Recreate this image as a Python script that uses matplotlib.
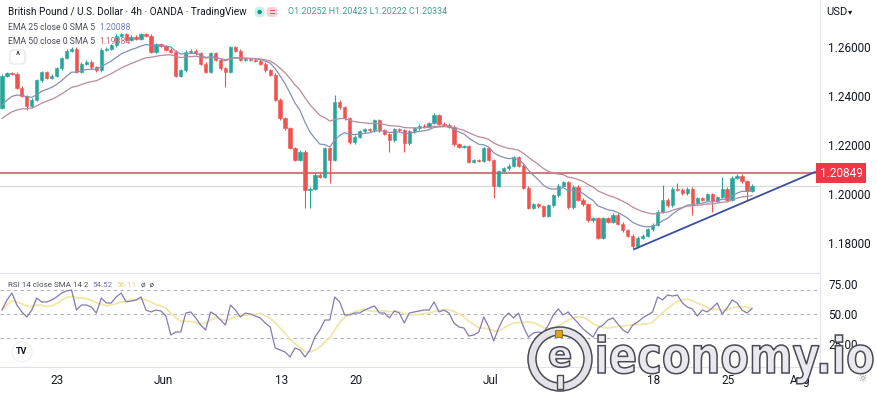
import numpy as np
import matplotlib.pyplot as plt
import matplotlib.transforms as mtransforms
from matplotlib.patches import Circle, FancyBboxPatch, PathPatch, Rectangle
from matplotlib.textpath import TextPath
from matplotlib.font_manager import FontProperties

plt.rcParams['font.family'] = ['Roboto', 'DejaVu Sans']

# GBP/USD (about 3 bars per trading day)
first_open = 1.2351
closes = [
    1.2482, 1.2494, 1.2490, 1.2433, 1.2400, 1.2359, 1.2384, 1.2465, 1.2498, 1.2474,
    1.2482, 1.2514, 1.2555, 1.2584, 1.2592, 1.2498, 1.2531, 1.2539, 1.2518, 1.2506,
    1.2588, 1.2592, 1.2608, 1.2645, 1.2653, 1.2629, 1.2641, 1.2633, 1.2653, 1.2645,
    1.2580, 1.2612, 1.2604, 1.2588, 1.2580, 1.2482, 1.2506, 1.2580, 1.2584, 1.2575,
    1.2531, 1.2498, 1.2575, 1.2547, 1.2514, 1.2498, 1.2600, 1.2584, 1.2547, 1.2551,
    1.2547, 1.2543, 1.2531, 1.2506, 1.2486, 1.2384, 1.2310, 1.2269, 1.2188, 1.2139,
    1.2172, 1.2017, 1.2021, 1.2078, 1.2070, 1.2188, 1.2139, 1.2376, 1.2355, 1.2310,
    1.2212, 1.2233, 1.2257, 1.2265, 1.2261, 1.2302, 1.2261, 1.2245, 1.2220, 1.2265,
    1.2261, 1.2208, 1.2257, 1.2269, 1.2278, 1.2274, 1.2290, 1.2322, 1.2286, 1.2282,
    1.2274, 1.2204, 1.2192, 1.2196, 1.2131, 1.2139, 1.2135, 1.2188, 1.2139, 1.2033,
    1.2094, 1.2106, 1.2115, 1.2151, 1.2115, 1.2025, 1.1943, 1.1959, 1.1951, 1.1911,
    1.1955, 1.1996, 1.2033, 1.2049, 1.1947, 1.2029, 1.1976, 1.1959, 1.1894, 1.1902,
    1.1821, 1.1902, 1.1886, 1.1915, 1.1878, 1.1853, 1.1829, 1.1788, 1.1821, 1.1829,
    1.1857, 1.1874, 1.1927, 1.1976, 1.1955, 1.2021, 1.2017, 1.2004, 1.2021, 1.1964,
    1.1984, 1.1976, 1.2000, 1.1972, 1.1988, 1.2021, 1.1976, 1.2066, 1.2074, 1.2053,
    1.2013, 1.2033,
]
# the wicks that stick out
wick_highs = {67: 1.2404, 87: 1.2331, 133: 1.2037, 136: 1.2045, 145: 1.2070}
wick_lows = {5: 1.2343, 45: 1.2437, 61: 1.1943, 62: 1.1943, 66: 1.2045, 78: 1.2172,
             81: 1.2172, 99: 1.1984, 127: 1.1772, 139: 1.1915, 143: 1.1927, 150: 1.1976}

rsi = [
    53.3, 61.7, 67.5, 57.5, 51.7, 47.5, 53.3, 63.3, 60.0, 60.0,
    61.7, 64.2, 67.5, 69.2, 70.0, 53.3, 57.5, 57.5, 55.8, 50.8,
    63.3, 59.2, 59.2, 64.2, 67.5, 60.0, 60.8, 61.7, 64.2, 53.3,
    51.7, 53.3, 52.5, 48.3, 32.5, 35.0, 35.0, 50.8, 51.7, 46.7,
    40.8, 36.7, 51.7, 49.2, 45.0, 40.8, 57.5, 53.3, 47.5, 50.8,
    50.0, 48.3, 46.7, 42.5, 39.2, 21.7, 20.0, 18.3, 14.2, 21.7,
    20.0, 14.2, 20.0, 30.8, 36.7, 45.0, 45.0, 64.2, 60.0, 49.2,
    49.2, 50.8, 50.8, 53.3, 55.0, 56.7, 50.8, 50.8, 46.7, 52.5,
    50.8, 42.5, 50.8, 51.7, 52.5, 53.3, 53.3, 60.0, 51.7, 53.3,
    50.8, 42.5, 39.2, 38.3, 31.7, 32.5, 35.0, 47.5, 39.2, 27.5,
    38.3, 46.7, 50.8, 46.7, 50.8, 39.2, 30.8, 34.2, 35.0, 34.2,
    40.8, 49.2, 54.2, 49.2, 51.7, 46.7, 42.5, 37.5, 34.2, 30.8,
    38.3, 40.8, 45.0, 46.7, 41.7, 36.7, 34.2, 40.8, 43.3, 46.7,
    49.2, 51.7, 64.2, 61.7, 65.8, 65.0, 65.8, 59.2, 55.8, 54.2,
    48.3, 53.3, 51.7, 55.0, 59.2, 50.0, 55.0, 61.7, 59.2, 53.3,
    50.8, 54.5,
]

ema25_start = 1.2343
ema50_start = 1.2294
resistance = 1.20849
trend_x = [127.4, 163.7]
trend_y = [1.1776, 1.2090]

price_ticks = [1.18, 1.20, 1.22, 1.24, 1.26]
rsi_ticks = [25, 50, 75]
rsi_bands = [30, 50, 70]
date_pos = [11.1, 32.4, 56.4, 71.3, 98.3, 131.3, 146.2, 160.7]
date_labels = ['23', 'Jun', '13', '20', 'Jul', '18', '25', 'Aug']

UP = '#26a69a'
DOWN = '#ef5350'
TXT = '#131722'
GREY = '#4a4e5a'
BORDER = '#e0e3eb'

W, H = 878, 393
fig = plt.figure(figsize=(W / 100, H / 100), dpi=100)
fig.patch.set_facecolor('white')
renderer = fig.canvas.get_renderer()


def fx(x):
    return x / W


def fy(y):
    return 1 - y / H


def right_of(t, gap):
    # pixel x just after a text
    return t.get_window_extent(renderer).x1 + gap


# ---- candles
n = len(closes)
xs = np.arange(n)
opens = [first_open] + closes[:-1]
ax = fig.add_axes([0, fy(273), fx(820), 273 / H])
ax.set_xlim(-0.4, 164.7)
ax.set_ylim(1.16779, 1.279176)

for i in range(n):
    o, c = opens[i], closes[i]
    col = UP if c >= o else DOWN
    hi = wick_highs.get(i, max(o, c) + 0.0006)
    lo = wick_lows.get(i, min(o, c) - 0.0006)
    ax.vlines(i, lo, hi, color=col, lw=0.8, zorder=3)
    ax.add_patch(Rectangle((i - 0.33, min(o, c)), 0.66, max(abs(c - o), 0.0002),
                           fc=col, ec=col, lw=0.4, zorder=4))

# EMA 25 / EMA 50 on 4h bars -> spans of 12.5 / 25 of these bars
ema25, ema50 = [], []
e25, e50 = ema25_start, ema50_start
for c in closes:
    e25 += (c - e25) * 2 / 13.5
    e50 += (c - e50) * 2 / 26.0
    ema25.append(e25)
    ema50.append(e50)
ax.plot(xs, ema25, color='#8790b4', lw=0.9, zorder=5)
ax.plot(xs, ema50, color='#b98b9d', lw=0.9, zorder=5)

ax.axhline(closes[-1], color='#d6d6d6', lw=0.8, zorder=1)
ax.axhline(resistance, color='#d27b80', lw=1.5, zorder=2)
ax.plot(trend_x, trend_y, color='#3c4f9e', lw=1.3, zorder=6, clip_on=False)

ax.yaxis.tick_right()
ax.set_yticks(price_ticks)
ax.set_yticklabels(['%.5f' % v for v in price_ticks])
ax.tick_params(axis='y', length=0, pad=6, labelsize=8.5, labelcolor=TXT)
ax.set_xticks([])
for s in ['top', 'left']:
    ax.spines[s].set_visible(False)
for s in ['right', 'bottom']:
    ax.spines[s].set_color(BORDER)

ax.text(1.0, resistance, '1.20849', transform=ax.get_yaxis_transform(),
        ha='left', va='center', color='white', fontsize=8.5, zorder=10,
        bbox=dict(boxstyle='square,pad=0.3', fc='#f23645', ec='none'))
fig.text(fx(826), fy(12), 'USD', fontsize=8, color=TXT, va='center')
fig.text(fx(848), fy(12), '▾', fontsize=6, color=TXT, va='center')

# ---- RSI pane
ax2 = fig.add_axes([0, fy(367), fx(820), 92 / H])
ax2.set_xlim(-0.4, 164.7)
ax2.set_ylim(5.83, 82.5)
rsi_sma = [np.mean(rsi[max(0, i - 6):i + 1]) for i in range(n)]
for b in rsi_bands:
    ax2.axhline(b, color='#b2b5be', lw=0.8, ls=(0, (3, 3)))
ax2.plot(xs, rsi_sma, color='#f1e7a8', lw=1.3)
ax2.plot(xs, rsi, color='#8779b0', lw=0.9)
ax2.yaxis.tick_right()
ax2.set_yticks(rsi_ticks)
ax2.set_yticklabels(['%.2f' % v for v in rsi_ticks])
ax2.tick_params(axis='y', length=0, pad=6, labelsize=8.5, labelcolor=TXT)
ax2.set_xticks(date_pos)
ax2.set_xticklabels(date_labels)
ax2.tick_params(axis='x', length=0, pad=5, labelsize=8.5, labelcolor=TXT)
ax2.spines['top'].set_visible(False)
ax2.spines['left'].set_visible(False)
for s in ['right', 'bottom']:
    ax2.spines[s].set_color(BORDER)

# ---- header texts
ident = mtransforms.IdentityTransform()
t = fig.text(fx(8), fy(12), 'British Pound / U.S. Dollar · 4h · OANDA · TradingView',
             fontsize=7.2, color=TXT, va='center')
px0 = right_of(t, 8)
fig.add_artist(FancyBboxPatch((px0, H - 17), 10, 10, boxstyle='round,pad=0,rounding_size=4',
                              fc='#c9efe9', ec='none', transform=ident))
fig.add_artist(Circle((px0 + 5, H - 12), 2.2, fc='#089981', ec='none', transform=ident))
fig.add_artist(FancyBboxPatch((px0 + 12, H - 17), 11, 10, boxstyle='round,pad=0,rounding_size=4',
                              fc='#fbd0d6', ec='none', transform=ident))
fig.add_artist(Rectangle((px0 + 15, H - 11), 5, 0.9, fc='#e04d66', ec='none', transform=ident))
fig.add_artist(Rectangle((px0 + 15, H - 14), 5, 0.9, fc='#e04d66', ec='none', transform=ident))
fig.text(fx(px0 + 33), fy(12), 'O1.20252 H1.20423 L1.20222 C1.20334',
         fontsize=6.4, color='#3f9d90', va='center')

t = fig.text(fx(8), fy(27), 'EMA 25 close 0 SMA 5', fontsize=6.2, color=GREY, va='center')
fig.text(fx(right_of(t, 4)), fy(27), '1.20088', fontsize=6.2, color='#6f7fb8', va='center')
t = fig.text(fx(8), fy(42), 'EMA 50 close 0 SMA 5', fontsize=6.2, color=GREY, va='center')
fig.text(fx(right_of(t, 4)), fy(42), '1.19884', fontsize=6.2, color='#c8607a', va='center')

t = fig.text(fx(8), fy(285), 'RSI 14 close SMA 14 2', fontsize=5.8, color=GREY, va='center')
t = fig.text(fx(right_of(t, 4)), fy(285), '54.52', fontsize=5.8, color='#7c74b0', va='center')
t = fig.text(fx(right_of(t, 4)), fy(285), '56.11', fontsize=5.8, color='#e3d47c', va='center')
fig.text(fx(right_of(t, 4)), fy(285), 'ø  ø', fontsize=5.8, color=GREY, va='center')

fig.add_artist(FancyBboxPatch((10, H - 64), 15, 14, boxstyle='round,pad=0,rounding_size=3',
                              fc='white', ec=BORDER, lw=0.8, transform=ident))
fig.text(fx(17.5), fy(56), '^', fontsize=7, color=TXT, ha='center', va='center')
fig.add_artist(Circle((22, H - 352), 10, fc='white', ec='#eeeeee', lw=0.8, transform=ident))
fig.text(fx(22), fy(352), 'TV', fontsize=6.5, weight='bold', color=TXT, ha='center', va='center')
fig.text(fx(862), fy(379), '☼', fontsize=8, color='#8a8e99', ha='center', va='center')

# ---- watermark
fp = FontProperties(family='DejaVu Sans', weight='bold')
tp = TextPath((0, 0), 'ieconomy.io', size=1, prop=fp)
ext = tp.get_extents()
sx = (873 - 598) / ext.width
tr = mtransforms.Affine2D().translate(-ext.x0, 0).scale(sx, 28 / 0.56).translate(598, H - 373)
fig.add_artist(PathPatch(tp, transform=tr, fc='#e9e9ef', ec='#4b4b55', lw=1.1, zorder=20))

cx, cy = 560, H - 359
fig.add_artist(Circle((cx, cy), 28, fill=False, ec='#e3e3e9', lw=6, transform=ident, zorder=20))
fig.add_artist(Circle((cx, cy), 32, fill=False, ec='#4b4b55', lw=1.1, transform=ident, zorder=21))
fig.add_artist(Circle((cx, cy), 24, fill=False, ec='#4b4b55', lw=1.1, transform=ident, zorder=21))
te = TextPath((0, 0), 'e', size=1, prop=fp)
ee = te.get_extents()
tr_e = mtransforms.Affine2D().translate(-(ee.x0 + ee.x1) / 2, -(ee.y0 + ee.y1) / 2).scale(36, 36).translate(cx, cy + 2)
fig.add_artist(PathPatch(te, transform=tr_e, fc='#e9e9ef', ec='#4b4b55', lw=1.1, zorder=22))
fig.add_artist(Rectangle((cx - 3, cy - 30), 6, 14, fc='#e9e9ef', ec='#4b4b55', lw=1.0,
                         transform=ident, zorder=22))
fig.add_artist(Rectangle((cx - 5, cy + 22), 7, 7, fc='#d9a520', ec='#8a6a10', lw=0.6,
                         transform=ident, zorder=23))

fig.savefig('out.png', dpi=100)
